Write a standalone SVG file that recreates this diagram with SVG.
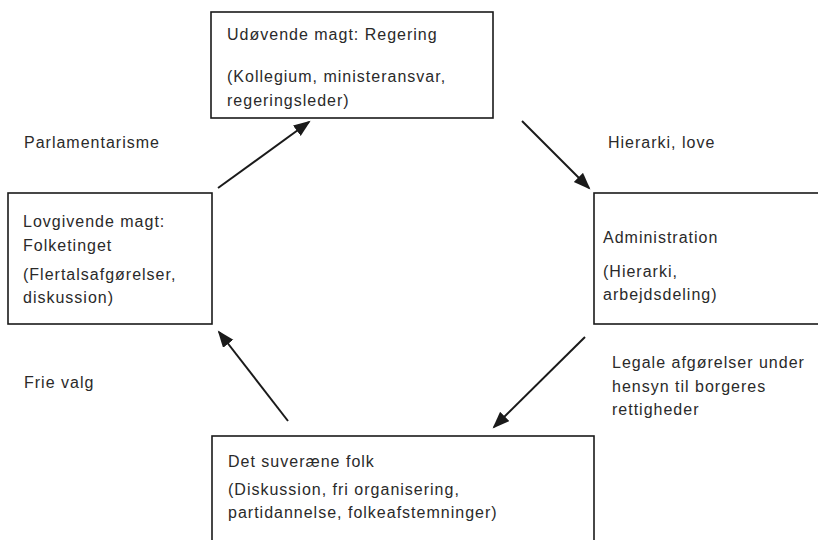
<svg xmlns="http://www.w3.org/2000/svg" width="818" height="540" viewBox="0 0 818 540">
<defs>
<style>
.box{fill:#fff;stroke:#1a1a1a;stroke-width:1.6}
.t{font-family:"Liberation Sans",Arial,sans-serif;font-size:16px;letter-spacing:1px;fill:#2a2a2a}
.c{stroke:#1a1a1a;stroke-width:2;fill:none;marker-end:url(#ah)}
</style>
<marker id="ah" markerUnits="userSpaceOnUse" markerWidth="18" markerHeight="14" refX="15" refY="6.5" orient="auto">
<path d="M0,0 L17,6.5 L0,13 z" fill="#1a1a1a"/>
</marker>
</defs>
<rect width="818" height="540" fill="#fff"/>
<g id="connectors">
<line class="c" x1="218" y1="188" x2="309" y2="122"/>
<line class="c" x1="522" y1="121" x2="589" y2="188"/>
<line class="c" x1="585" y1="337" x2="494" y2="427"/>
<line class="c" x1="288" y1="421" x2="219" y2="332"/>
</g>
<g id="node-regering">
<rect class="box" x="211" y="12" width="282" height="106"/>
<text class="t" x="227" y="40">Udøvende magt: Regering</text>
<text class="t" x="227" y="82">(Kollegium, ministeransvar,</text>
<text class="t" x="227" y="106">regeringsleder)</text>
</g>
<g id="node-folketinget">
<rect class="box" x="8" y="193" width="204" height="131"/>
<text class="t" x="23" y="227">Lovgivende magt:</text>
<text class="t" x="23" y="251">Folketinget</text>
<text class="t" x="23" y="280">(Flertalsafgørelser,</text>
<text class="t" x="23" y="303">diskussion)</text>
</g>
<g id="node-administration">
<rect class="box" x="594" y="193" width="240" height="131"/>
<text class="t" x="603" y="243">Administration</text>
<text class="t" x="603" y="277">(Hierarki,</text>
<text class="t" x="603" y="300">arbejdsdeling)</text>
</g>
<g id="node-folk">
<rect class="box" x="212" y="436" width="382" height="120"/>
<text class="t" x="228" y="467">Det suveræne folk</text>
<text class="t" x="228" y="495">(Diskussion, fri organisering,</text>
<text class="t" x="228" y="518">partidannelse, folkeafstemninger)</text>
</g>
<g id="labels">
<text class="t" x="24" y="148">Parlamentarisme</text>
<text class="t" x="608" y="148">Hierarki, love</text>
<text class="t" x="24" y="388">Frie valg</text>
<text class="t" x="612" y="368">Legale afgørelser under</text>
<text class="t" x="612" y="392">hensyn til borgeres</text>
<text class="t" x="612" y="415">rettigheder</text>
</g>
</svg>
